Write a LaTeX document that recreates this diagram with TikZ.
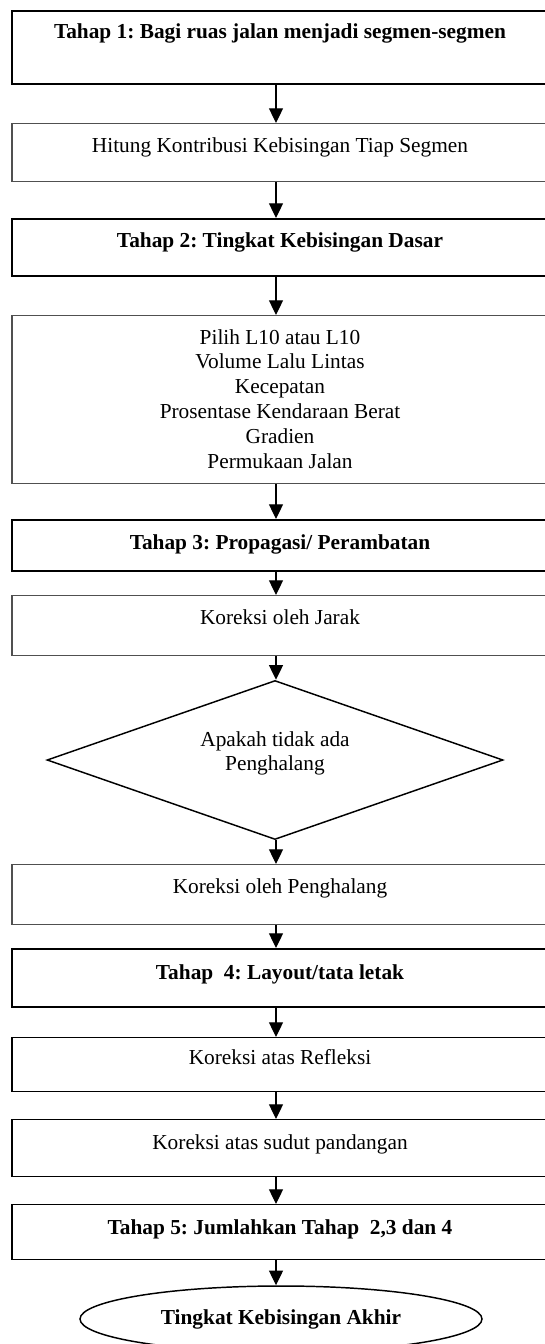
\documentclass[tikz,border=0pt]{standalone}
\usepackage{fontspec}
\setmainfont{Liberation Serif}
\usetikzlibrary{arrows.meta,shapes.geometric}
\definecolor{thingray}{RGB}{80,80,80}
\def\u{0.75pt}
\frenchspacing
\tikzset{
  boxbase/.style={rectangle, minimum width=536*\u, anchor=north, inner sep=0pt},
  thickbox/.style={boxbase, draw=black, line width=1.5pt},
  medbox/.style={boxbase, draw=black, line width=1.1pt},
  thinbox/.style={boxbase, draw=thingray, line width=0.8pt},
  txt/.style={anchor=base, inner sep=0pt, font=\fontsize{16}{18.6}\selectfont},
  btxt/.style={anchor=base, inner sep=0pt, font=\fontsize{16}{18.6}\selectfont\bfseries},
  arr/.style={-{Triangle[length=11pt,width=10.5pt]}, line width=0.9pt},
}
\begin{document}
\begin{tikzpicture}[x=0.75pt,y=-0.75pt]
\useasboundingbox (0,0) rectangle (544,1344);
\fill[white] (0,0) rectangle (544,1344);
\coordinate (ax) at (276,0);
% boxes
\node[thickbox, minimum height=73*\u] (b1) at (280,10) {};
\node[thinbox,  minimum height=58*\u] (b2) at (280,123) {};
\node[thickbox, minimum height=57*\u] (b3) at (280,218) {};
\node[thinbox,  minimum height=168*\u] (b4) at (280,315) {};
\node[thickbox, minimum height=51*\u] (b5) at (280,519) {};
\node[thinbox,  minimum height=60*\u] (b6) at (280,595) {};
\node[diamond, draw=black, line width=1.1pt, minimum width=456*\u, minimum height=159*\u, inner sep=0pt] (dia) at (275,760) {};
\node[thinbox,  minimum height=60*\u] (b7) at (280,864) {};
\node[thickbox, minimum height=58*\u] (b8) at (280,948) {};
\node[medbox,   minimum height=54*\u] (b9) at (280,1037) {};
\node[medbox,   minimum height=57*\u] (b10) at (280,1119) {};
\node[medbox,   minimum height=55*\u] (b11) at (280,1204) {};
\node[ellipse, draw=black, line width=1.1pt, minimum width=402*\u, minimum height=66*\u, inner sep=0pt, font=\fontsize{16}{18.6}\selectfont\bfseries] (ell) at (281,1319) {Tingkat Kebisingan Akhir};
% texts
\node[btxt] (t1) at (280,39) {Tahap 1: Bagi ruas jalan menjadi segmen-segmen};
\node[txt] (t2) at (280,153) {Hitung Kontribusi Kebisingan Tiap Segmen};
\node[btxt] (t3) at (280,248) {Tahap 2: Tingkat Kebisingan Dasar};
\node[txt, anchor=north, align=center] (t4) at (280,329) {Pilih L10 atau L10\\Volume Lalu Lintas\\Kecepatan\\Prosentase Kendaraan Berat\\Gradien\\Permukaan Jalan};
\node[btxt] (t5) at (280,549) {Tahap 3: Propagasi/ Perambatan};
\node[txt] (t6) at (280,624) {Koreksi oleh Jarak};
\node[txt, anchor=north, align=center] (td) at (275,731) {Apakah tidak ada\\Penghalang};
\node[txt] (t7) at (280,893) {Koreksi oleh Penghalang};
\node[btxt] (t8) at (280,979) {Tahap\ \ 4: Layout/tata letak};
\node[txt] (t9) at (280,1064) {Koreksi atas Refleksi};
\node[txt] (t10) at (280,1149) {Koreksi atas sudut pandangan};
\node[btxt] (t11) at (280,1234) {Tahap 5: Jumlahkan Tahap\ \ 2,3 dan 4};
% connectors
\draw[arr] (b1.south -| ax) -- (b2.north -| ax);
\draw[arr] (b2.south -| ax) -- (b3.north -| ax);
\draw[arr] (b3.south -| ax) -- (b4.north -| ax);
\draw[arr] (b4.south -| ax) -- (b5.north -| ax);
\draw[arr] (b5.south -| ax) -- (b6.north -| ax);
\draw[arr] (b6.south -| ax) -- (dia.north -| ax);
\draw[arr] (dia.south -| ax) -- (b7.north -| ax);
\draw[arr] (b7.south -| ax) -- (b8.north -| ax);
\draw[arr] (b8.south -| ax) -- (b9.north -| ax);
\draw[arr] (b9.south -| ax) -- (b10.north -| ax);
\draw[arr] (b10.south -| ax) -- (b11.north -| ax);
\draw[arr] (b11.south -| ax) -- (ell.north -| ax);
\end{tikzpicture}
\end{document}
